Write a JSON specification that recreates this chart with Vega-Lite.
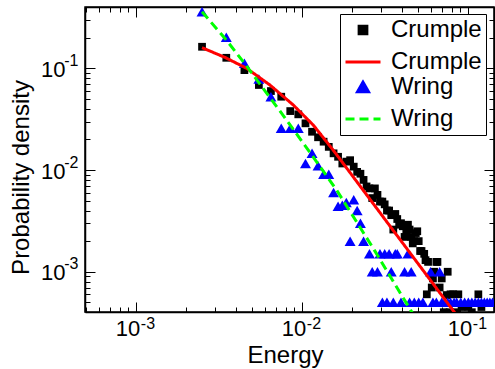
{
  "$schema": "https://vega.github.io/schema/vega-lite/v6.json",
  "width": 409,
  "height": 305,
  "autosize": {"type": "none"},
  "padding": {"left": 85, "top": 7, "right": 1, "bottom": 57},
  "background": "white",
  "config": {
    "view": {"stroke": "black", "strokeWidth": 1.5},
    "font": "Liberation Sans",
    "axis": {
      "domainColor": "black", "domainWidth": 1.5, "tickColor": "black", "tickWidth": 1,
      "labelFont": "Liberation Sans", "labelFontSize": 22, "labelColor": "black",
      "titleFont": "Liberation Sans", "titleFontSize": 24, "titleFontWeight": "normal", "titleColor": "black",
      "grid": false, "labelOverlap": false, "labelBound": false, "labelFlush": false
    }
  },
  "datasets": {
    "pts": [
      {"E": 0.0025, "P": 0.163, "series": "Crumple data"},
      {"E": 0.0035, "P": 0.127, "series": "Crumple data"},
      {"E": 0.0045, "P": 0.096, "series": "Crumple data"},
      {"E": 0.0055, "P": 0.0686, "series": "Crumple data"},
      {"E": 0.0065, "P": 0.0598, "series": "Crumple data"},
      {"E": 0.0075, "P": 0.0526, "series": "Crumple data"},
      {"E": 0.0085, "P": 0.038, "series": "Crumple data"},
      {"E": 0.0095, "P": 0.0353, "series": "Crumple data"},
      {"E": 0.0105, "P": 0.0288, "series": "Crumple data"},
      {"E": 0.0115, "P": 0.0238, "series": "Crumple data"},
      {"E": 0.0125, "P": 0.021, "series": "Crumple data"},
      {"E": 0.0135, "P": 0.019, "series": "Crumple data"},
      {"E": 0.0145, "P": 0.0169, "series": "Crumple data"},
      {"E": 0.0155, "P": 0.0146, "series": "Crumple data"},
      {"E": 0.0165, "P": 0.0135, "series": "Crumple data"},
      {"E": 0.0175, "P": 0.0116, "series": "Crumple data"},
      {"E": 0.0185, "P": 0.0121, "series": "Crumple data"},
      {"E": 0.0195, "P": 0.0125, "series": "Crumple data"},
      {"E": 0.0205, "P": 0.0108, "series": "Crumple data"},
      {"E": 0.0215, "P": 0.0096, "series": "Crumple data"},
      {"E": 0.0225, "P": 0.0092, "series": "Crumple data"},
      {"E": 0.0235, "P": 0.008, "series": "Crumple data"},
      {"E": 0.0245, "P": 0.0069, "series": "Crumple data"},
      {"E": 0.0255, "P": 0.0066, "series": "Crumple data"},
      {"E": 0.0265, "P": 0.0053, "series": "Crumple data"},
      {"E": 0.0275, "P": 0.0066, "series": "Crumple data"},
      {"E": 0.0285, "P": 0.0057, "series": "Crumple data"},
      {"E": 0.0295, "P": 0.0049, "series": "Crumple data"},
      {"E": 0.0305, "P": 0.0049, "series": "Crumple data"},
      {"E": 0.0315, "P": 0.0046, "series": "Crumple data"},
      {"E": 0.0325, "P": 0.004, "series": "Crumple data"},
      {"E": 0.0335, "P": 0.004, "series": "Crumple data"},
      {"E": 0.0345, "P": 0.0036, "series": "Crumple data"},
      {"E": 0.0355, "P": 0.0026, "series": "Crumple data"},
      {"E": 0.0365, "P": 0.0037, "series": "Crumple data"},
      {"E": 0.0375, "P": 0.0033, "series": "Crumple data"},
      {"E": 0.0385, "P": 0.0029, "series": "Crumple data"},
      {"E": 0.0395, "P": 0.003, "series": "Crumple data"},
      {"E": 0.0405, "P": 0.0028, "series": "Crumple data"},
      {"E": 0.0415, "P": 0.0022, "series": "Crumple data"},
      {"E": 0.0425, "P": 0.0024, "series": "Crumple data"},
      {"E": 0.0435, "P": 0.0029, "series": "Crumple data"},
      {"E": 0.0445, "P": 0.0026, "series": "Crumple data"},
      {"E": 0.0455, "P": 0.0022, "series": "Crumple data"},
      {"E": 0.0465, "P": 0.0019, "series": "Crumple data"},
      {"E": 0.0475, "P": 0.002, "series": "Crumple data"},
      {"E": 0.0485, "P": 0.0024, "series": "Crumple data"},
      {"E": 0.0495, "P": 0.0025, "series": "Crumple data"},
      {"E": 0.0505, "P": 0.002, "series": "Crumple data"},
      {"E": 0.0515, "P": 0.0016, "series": "Crumple data"},
      {"E": 0.0525, "P": 0.0016, "series": "Crumple data"},
      {"E": 0.0545, "P": 0.0015, "series": "Crumple data"},
      {"E": 0.0555, "P": 0.0013, "series": "Crumple data"},
      {"E": 0.0565, "P": 0.0006, "series": "Crumple data"},
      {"E": 0.0575, "P": 0.00125, "series": "Crumple data"},
      {"E": 0.0605, "P": 0.0007, "series": "Crumple data"},
      {"E": 0.0615, "P": 0.00086, "series": "Crumple data"},
      {"E": 0.0625, "P": 0.001, "series": "Crumple data"},
      {"E": 0.0645, "P": 0.00125, "series": "Crumple data"},
      {"E": 0.0655, "P": 0.00125, "series": "Crumple data"},
      {"E": 0.0675, "P": 0.0007, "series": "Crumple data"},
      {"E": 0.0695, "P": 0.00086, "series": "Crumple data"},
      {"E": 0.0715, "P": 0.0004, "series": "Crumple data"},
      {"E": 0.0745, "P": 0.00059, "series": "Crumple data"},
      {"E": 0.0755, "P": 0.001, "series": "Crumple data"},
      {"E": 0.0775, "P": 0.0004, "series": "Crumple data"},
      {"E": 0.0785, "P": 0.0006, "series": "Crumple data"},
      {"E": 0.0815, "P": 0.0006, "series": "Crumple data"},
      {"E": 0.0855, "P": 0.0004, "series": "Crumple data"},
      {"E": 0.0875, "P": 0.0006, "series": "Crumple data"},
      {"E": 0.0915, "P": 0.00045, "series": "Crumple data"},
      {"E": 0.1005, "P": 0.00045, "series": "Crumple data"},
      {"E": 0.1055, "P": 0.0004, "series": "Crumple data"},
      {"E": 0.1155, "P": 0.0006, "series": "Crumple data"},
      {"E": 0.1205, "P": 0.00045, "series": "Crumple data"},
      {"E": 0.0025, "P": 0.36, "series": "Wring data"},
      {"E": 0.0035, "P": 0.202, "series": "Wring data"},
      {"E": 0.0045, "P": 0.112, "series": "Wring data"},
      {"E": 0.0055, "P": 0.0785, "series": "Wring data"},
      {"E": 0.0065, "P": 0.0526, "series": "Wring data"},
      {"E": 0.0075, "P": 0.0257, "series": "Wring data"},
      {"E": 0.0085, "P": 0.0257, "series": "Wring data"},
      {"E": 0.0095, "P": 0.0257, "series": "Wring data"},
      {"E": 0.0105, "P": 0.0116, "series": "Wring data"},
      {"E": 0.0115, "P": 0.0146, "series": "Wring data"},
      {"E": 0.0125, "P": 0.011, "series": "Wring data"},
      {"E": 0.0135, "P": 0.0091, "series": "Wring data"},
      {"E": 0.0145, "P": 0.0091, "series": "Wring data"},
      {"E": 0.0155, "P": 0.006, "series": "Wring data"},
      {"E": 0.0165, "P": 0.0044, "series": "Wring data"},
      {"E": 0.0175, "P": 0.0045, "series": "Wring data"},
      {"E": 0.0185, "P": 0.0048, "series": "Wring data"},
      {"E": 0.0195, "P": 0.002, "series": "Wring data"},
      {"E": 0.0205, "P": 0.0051, "series": "Wring data"},
      {"E": 0.0215, "P": 0.004, "series": "Wring data"},
      {"E": 0.0225, "P": 0.003, "series": "Wring data"},
      {"E": 0.0235, "P": 0.002, "series": "Wring data"},
      {"E": 0.0255, "P": 0.0015, "series": "Wring data"},
      {"E": 0.0265, "P": 0.001, "series": "Wring data"},
      {"E": 0.0285, "P": 0.001, "series": "Wring data"},
      {"E": 0.0295, "P": 0.0015, "series": "Wring data"},
      {"E": 0.0305, "P": 0.0005, "series": "Wring data"},
      {"E": 0.0315, "P": 0.0015, "series": "Wring data"},
      {"E": 0.0325, "P": 0.0005, "series": "Wring data"},
      {"E": 0.0335, "P": 0.0015, "series": "Wring data"},
      {"E": 0.0345, "P": 0.001, "series": "Wring data"},
      {"E": 0.0355, "P": 0.0005, "series": "Wring data"},
      {"E": 0.0365, "P": 0.0015, "series": "Wring data"},
      {"E": 0.0375, "P": 0.0015, "series": "Wring data"},
      {"E": 0.0395, "P": 0.0005, "series": "Wring data"},
      {"E": 0.0415, "P": 0.001, "series": "Wring data"},
      {"E": 0.0435, "P": 0.0015, "series": "Wring data"},
      {"E": 0.0445, "P": 0.0005, "series": "Wring data"},
      {"E": 0.0455, "P": 0.001, "series": "Wring data"},
      {"E": 0.0475, "P": 0.0005, "series": "Wring data"},
      {"E": 0.0505, "P": 0.0005, "series": "Wring data"},
      {"E": 0.0535, "P": 0.0005, "series": "Wring data"},
      {"E": 0.0595, "P": 0.001, "series": "Wring data"},
      {"E": 0.0615, "P": 0.0005, "series": "Wring data"},
      {"E": 0.0645, "P": 0.0005, "series": "Wring data"},
      {"E": 0.0675, "P": 0.001, "series": "Wring data"},
      {"E": 0.0695, "P": 0.0005, "series": "Wring data"},
      {"E": 0.0725, "P": 0.0005, "series": "Wring data"},
      {"E": 0.0755, "P": 0.0005, "series": "Wring data"},
      {"E": 0.0785, "P": 0.0005, "series": "Wring data"},
      {"E": 0.0825, "P": 0.0005, "series": "Wring data"},
      {"E": 0.0855, "P": 0.0005, "series": "Wring data"},
      {"E": 0.0905, "P": 0.0005, "series": "Wring data"},
      {"E": 0.0955, "P": 0.0005, "series": "Wring data"},
      {"E": 0.1005, "P": 0.0005, "series": "Wring data"},
      {"E": 0.1055, "P": 0.0005, "series": "Wring data"},
      {"E": 0.1105, "P": 0.0005, "series": "Wring data"},
      {"E": 0.1155, "P": 0.0005, "series": "Wring data"},
      {"E": 0.1205, "P": 0.0005, "series": "Wring data"},
      {"E": 0.1255, "P": 0.0005, "series": "Wring data"},
      {"E": 0.1305, "P": 0.0005, "series": "Wring data"},
      {"E": 0.1355, "P": 0.0005, "series": "Wring data"},
      {"E": 0.1405, "P": 0.0005, "series": "Wring data"}
    ],
    "fits": [
      {"E": 0.0025, "P": 0.1596, "series": "Crumple fit"},
      {"E": 0.003443, "P": 0.1279, "series": "Crumple fit"},
      {"E": 0.004645, "P": 0.1, "series": "Crumple fit"},
      {"E": 0.006412, "P": 0.06855, "series": "Crumple fit"},
      {"E": 0.008872, "P": 0.04355, "series": "Crumple fit"},
      {"E": 0.011695, "P": 0.02767, "series": "Crumple fit"},
      {"E": 0.01549, "P": 0.01556, "series": "Crumple fit"},
      {"E": 0.08356, "P": 0.000392, "series": "Crumple fit"},
      {"E": 0.0891, "P": 0.00034, "series": "Crumple fit"},
      {"E": 0.0025, "P": 0.36, "series": "Wring fit"},
      {"E": 0.003516, "P": 0.1884, "series": "Wring fit"},
      {"E": 0.004645, "P": 0.105, "series": "Wring fit"},
      {"E": 0.007362, "P": 0.0381, "series": "Wring fit"},
      {"E": 0.010666, "P": 0.01656, "series": "Wring fit"},
      {"E": 0.01618, "P": 0.006353, "series": "Wring fit"},
      {"E": 0.02723, "P": 0.00164, "series": "Wring fit"},
      {"E": 0.04581, "P": 0.000403, "series": "Wring fit"},
      {"E": 0.04898, "P": 0.000337, "series": "Wring fit"}
    ]
  },
  "layer": [
    {
      "data": {"name": "pts"},
      "mark": {"type": "point", "filled": true, "opacity": 1, "clip": true},
      "encoding": {
        "x": {
          "field": "E", "type": "quantitative",
          "scale": {"type": "log", "domain": [0.000493, 0.1435], "nice": false, "zero": false},
          "axis": {
            "orient": "bottom", "title": "Energy", "titleX": 200, "titleY": 31, "titleBaseline": "top",
            "values": [0.0005, 0.0006, 0.0007, 0.0008, 0.0009, 0.001, 0.002, 0.003, 0.004, 0.005, 0.006, 0.007, 0.008, 0.009, 0.01, 0.02, 0.03, 0.04, 0.05, 0.06, 0.07, 0.08, 0.09, 0.1],
            "labelExpr": "datum.value == 0.001 || datum.value == 0.01 || datum.value == 0.1 ? '10' : ''",
            "tickSize": {"condition": {"test": "datum.value == 0.001 || datum.value == 0.01 || datum.value == 0.1", "value": -10}, "value": -5},
            "labelPadding": 16, "labelOffset": -8.5
          }
        },
        "y": {
          "field": "P", "type": "quantitative",
          "scale": {"type": "log", "domain": [0.000402, 0.401], "nice": false, "zero": false},
          "axis": {
            "orient": "left", "title": "Probability density", "titleX": -52, "titleY": 170, "titleBaseline": "bottom", "titleAngle": -90,
            "values": [0.0004, 0.0005, 0.0006, 0.0007, 0.0008, 0.0009, 0.001, 0.002, 0.003, 0.004, 0.005, 0.006, 0.007, 0.008, 0.009, 0.01, 0.02, 0.03, 0.04, 0.05, 0.06, 0.07, 0.08, 0.09, 0.1, 0.2, 0.3, 0.4],
            "labelExpr": "datum.value == 0.001 || datum.value == 0.01 || datum.value == 0.1 ? '10' : ''",
            "tickSize": {"condition": {"test": "datum.value == 0.001 || datum.value == 0.01 || datum.value == 0.1", "value": -10}, "value": -5},
            "labelPadding": 30, "labelOffset": 1
          }
        },
        "shape": {"field": "series", "type": "nominal", "scale": {"domain": ["Crumple data", "Crumple fit", "Wring data", "Wring fit"], "range": ["square", "stroke", "triangle-up", "stroke"]}},
        "size": {"field": "series", "type": "nominal", "scale": {"type": "ordinal", "domain": ["Crumple data", "Crumple fit", "Wring data", "Wring fit"], "range": [60, 1225, 120, 1225]}},
        "color": {
          "field": "series", "type": "nominal",
          "scale": {"domain": ["Crumple data", "Crumple fit", "Wring data", "Wring fit"], "range": ["#000000", "#ff0000", "#0000ff", "#00ff00"]},
          "legend": {
            "title": null, "orient": "none", "legendX": 255, "legendY": 7, "zindex": 2,
            "fillColor": "white", "strokeColor": "black", "padding": 4,
            "labelFont": "Liberation Sans", "labelFontSize": 24, "labelColor": "black", "labelOffset": 9,
            "rowPadding": 1, "symbolStrokeWidth": 3,
            "labelExpr": "split(datum.label, ' ')[0] + ' '"
          }
        }
      }
    },
    {
      "data": {"name": "fits"},
      "mark": {"type": "line", "strokeWidth": 3, "clip": true},
      "encoding": {
        "x": {
          "field": "E", "type": "quantitative",
          "scale": {"type": "log", "domain": [0.000493, 0.1435], "nice": false, "zero": false},
          "axis": {
            "orient": "top", "title": null, "labels": false,
            "values": [0.0005, 0.0006, 0.0007, 0.0008, 0.0009, 0.001, 0.002, 0.003, 0.004, 0.005, 0.006, 0.007, 0.008, 0.009, 0.01, 0.02, 0.03, 0.04, 0.05, 0.06, 0.07, 0.08, 0.09, 0.1],
            "tickSize": {"condition": {"test": "datum.value == 0.001 || datum.value == 0.01 || datum.value == 0.1", "value": -10}, "value": -5}
          }
        },
        "y": {
          "field": "P", "type": "quantitative",
          "scale": {"type": "log", "domain": [0.000402, 0.401], "nice": false, "zero": false},
          "axis": {
            "orient": "right", "title": null, "labels": false,
            "values": [0.0004, 0.0005, 0.0006, 0.0007, 0.0008, 0.0009, 0.001, 0.002, 0.003, 0.004, 0.005, 0.006, 0.007, 0.008, 0.009, 0.01, 0.02, 0.03, 0.04, 0.05, 0.06, 0.07, 0.08, 0.09, 0.1, 0.2, 0.3, 0.4],
            "tickSize": {"condition": {"test": "datum.value == 0.001 || datum.value == 0.01 || datum.value == 0.1", "value": -10}, "value": -5}
          }
        },
        "color": {
          "field": "series", "type": "nominal",
          "scale": {"domain": ["Crumple data", "Crumple fit", "Wring data", "Wring fit"], "range": ["#000000", "#ff0000", "#0000ff", "#00ff00"]},
          "legend": null
        },
        "strokeDash": {"field": "series", "type": "nominal", "scale": {"domain": ["Crumple data", "Crumple fit", "Wring data", "Wring fit"], "range": [[1, 0], [1, 0], [1, 0], [9, 5]]}}
      }
    },
    {
      "data": {"name": "fits"},
      "mark": {"type": "point", "opacity": 0},
      "encoding": {
        "x": {
          "field": "E", "type": "quantitative",
          "scale": {"type": "log", "domain": [0.000493, 0.1435], "nice": false, "zero": false},
          "axis": {
            "orient": "bottom", "title": null, "ticks": false, "domain": false,
            "values": [0.001, 0.01, 0.1],
            "labelExpr": "'-' + round(-log(datum.value) / LN10)",
            "labelFontSize": 16, "labelPadding": 3, "labelOffset": 11.5
          }
        },
        "y": {
          "field": "P", "type": "quantitative",
          "scale": {"type": "log", "domain": [0.000402, 0.401], "nice": false, "zero": false},
          "axis": {
            "orient": "left", "title": null, "ticks": false, "domain": false,
            "values": [0.001, 0.01, 0.1],
            "labelExpr": "'-' + round(-log(datum.value) / LN10)",
            "labelFontSize": 16, "labelPadding": 7, "labelOffset": -8
          }
        }
      }
    }
  ],
  "resolve": {"axis": {"x": "independent", "y": "independent"}}
}
